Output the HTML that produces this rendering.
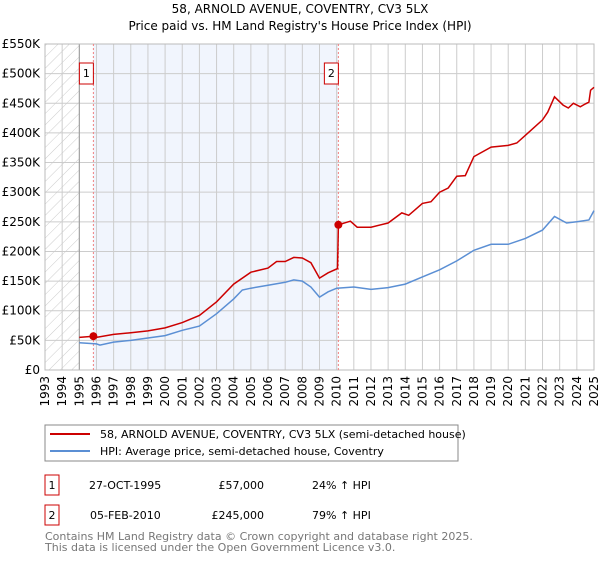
<!DOCTYPE html>
<html><head><meta charset="utf-8"><style>
body{margin:0;background:#fff;font-family:"DejaVu Sans","Liberation Sans",sans-serif;}
svg text{font-family:"DejaVu Sans","Liberation Sans",sans-serif;}
</style></head><body>
<svg id="c" width="600" height="560" xmlns="http://www.w3.org/2000/svg">
<defs><pattern id="hatch" width="8" height="8" patternUnits="userSpaceOnUse" patternTransform="rotate(45)"><line x1="0" y1="0" x2="0" y2="8" stroke="#ccc" stroke-width="1"/></pattern></defs>
<text x="300" y="13" text-anchor="middle" font-size="12">58, ARNOLD AVENUE, COVENTRY, CV3 5LX</text>
<text x="300" y="30" text-anchor="middle" font-size="12">Price paid vs. HM Land Registry's House Price Index (HPI)</text>
<g id="plot"></g>
<rect x="45" y="425" width="413" height="36" fill="#fff" stroke="#888"/>
<line x1="50" y1="434" x2="90" y2="434" stroke="#cc0000" stroke-width="2"/>
<text x="100" y="438" font-size="11">58, ARNOLD AVENUE, COVENTRY, CV3 5LX (semi-detached house)</text>
<line x1="50" y1="451" x2="90" y2="451" stroke="#5b8fd4" stroke-width="2"/>
<text x="100" y="455" font-size="11">HPI: Average price, semi-detached house, Coventry</text>
<g font-size="11">
<rect x="45" y="475" width="14" height="20" fill="#fff" stroke="#cc0000"/>
<text x="52" y="489" text-anchor="middle">1</text>
<text x="89" y="489">27-OCT-1995</text>
<text x="264" y="489" text-anchor="end">£57,000</text>
<text x="312" y="489">24% ↑ HPI</text>
<rect x="45" y="505" width="14" height="20" fill="#fff" stroke="#cc0000"/>
<text x="52" y="519" text-anchor="middle">2</text>
<text x="90" y="519">05-FEB-2010</text>
<text x="264" y="519" text-anchor="end">£245,000</text>
<text x="312" y="519">79% ↑ HPI</text>
</g>
<text x="45" y="540" font-size="11" fill="#777">Contains HM Land Registry data © Crown copyright and database right 2025.</text>
<text x="45" y="551" font-size="11" fill="#777">This data is licensed under the Open Government Licence v3.0.</text>
</svg>
<script>
const hpiYears=[1995,1996,1996.2,1997,1998,1999,2000,2001,2002,2003,2004,2004.5,2005,2006,2007,2007.5,2008,2008.5,2009,2009.5,2010,2011,2012,2013,2014,2015,2016,2017,2018,2019,2020,2021,2022,2022.7,2023.4,2024,2024.7,2025];
const hpiValues=[46,44,42,47,50,54,58,67,74,95,120,135,138,143,148,152,150,140,123,132,138,140,136,139,145,157,169,184,202,212,212,222,236,259,248,250,253,269];
const priceYears=[1995,1995.82,1996,1997,1998,1999,2000,2001,2002,2003,2004,2005,2006,2006.5,2007,2007.5,2008,2008.5,2009,2009.5,2010.05,2010.1,2010.8,2011.2,2012,2013,2013.8,2014.2,2015,2015.5,2016,2016.5,2017,2017.5,2018,2019,2020,2020.5,2021,2022,2022.3,2022.7,2023.2,2023.5,2023.8,2024.2,2024.5,2024.7,2024.8,2025];
const priceValues=[55,57,55,60,63,66,71,80,92,115,145,165,172,183,183,190,189,181,155,164,171,245,251,241,241,248,265,261,281,284,300,307,327,328,360,376,379,383,396,422,435,461,447,442,450,444,449,452,472,477];
const saleYears=[1995.82,2010.1];
const saleValues=[57,245];
const saleLabels=["1","2"];
const yTicks=[0,50,100,150,200,250,300,350,400,450,500,550];
const yTickLabels=["£0","£50K","£100K","£150K","£200K","£250K","£300K","£350K","£400K","£450K","£500K","£550K"];
const xTicks=[1993,1994,1995,1996,1997,1998,1999,2000,2001,2002,2003,2004,2005,2006,2007,2008,2009,2010,2011,2012,2013,2014,2015,2016,2017,2018,2019,2020,2021,2022,2023,2024,2025];

const X0=45,X1=594,Y0=370,Y1=44;
const xs=y=>X0+(y-1993)/(2025-1993)*(X1-X0);
const ys=v=>Y0-v/550*(Y0-Y1);
const NS="http://www.w3.org/2000/svg";
const g=document.getElementById('plot');
function mk(t,a){const e=document.createElementNS(NS,t);for(const k in a)e.setAttribute(k,a[k]);g.appendChild(e);return e;}

let e=mk('rect',{x:xs(1993),y:Y1,width:xs(1995)-xs(1993),height:Y0-Y1,fill:'url(#hatch)'});


e=mk('rect',{x:xs(saleYears[0]),y:Y1,width:xs(saleYears[1])-xs(saleYears[0]),height:Y0-Y1,fill:'#eef3fd',opacity:0.8});



xTicks.forEach(t=>{
 const l=mk('line',{x1:xs(t),x2:xs(t),y1:Y1,y2:Y0,stroke:'#ccc','stroke-width':1});
 
 
 const x=xs(t);
 const tx=mk('text',{x:x+4,y:376,'font-size':12,'text-anchor':'end',transform:`rotate(-90 ${x+4} 376)`});
 tx.textContent=t;
 
 
});
yTicks.forEach((t,i)=>{
 const l=mk('line',{x1:X0,x2:X1,y1:ys(t),y2:ys(t),stroke:'#ccc','stroke-width':1});
 
 
 const tx=mk('text',{x:40,y:ys(t)+4,'font-size':12,'text-anchor':'end'});
 tx.textContent=yTickLabels[i];
 
 
});
e=mk('line',{x1:xs(1995),x2:xs(1995),y1:Y1,y2:Y0,stroke:'#999','stroke-width':1});


e=mk('rect',{x:X0,y:Y1,width:X1-X0,height:Y0-Y1,fill:'none',stroke:'#bbb'});



saleYears.forEach((s,i)=>{
 const l=mk('line',{x1:xs(s),x2:xs(s),y1:Y1,y2:Y0,stroke:'#f08080','stroke-width':1,'stroke-dasharray':'2,2'});
 
 
});

const path=(xa,va)=>xa.map((x,i)=>(i?'L':'M')+xs(x).toFixed(1)+','+ys(va[i]).toFixed(1)).join('');
e=mk('path',{d:path(hpiYears,hpiValues),fill:'none',stroke:'#5b8fd4','stroke-width':1.5});


e=mk('path',{d:path(priceYears,priceValues),fill:'none',stroke:'#cc0000','stroke-width':1.5});



saleYears.forEach((s,i)=>{
 const c=mk('circle',{cx:xs(s),cy:ys(saleValues[i]),r:4,fill:'#cc0000'});
 
 
 const bx=xs(s)-13;
 const r=mk('rect',{x:bx-1,y:63,width:14,height:21,fill:'#fff',stroke:'#cc0000'});
 
 
 const t=mk('text',{x:bx+6,y:77,'font-size':11,'text-anchor':'middle'});
 t.textContent=saleLabels[i];
 
 
});
</script>
</body></html>
